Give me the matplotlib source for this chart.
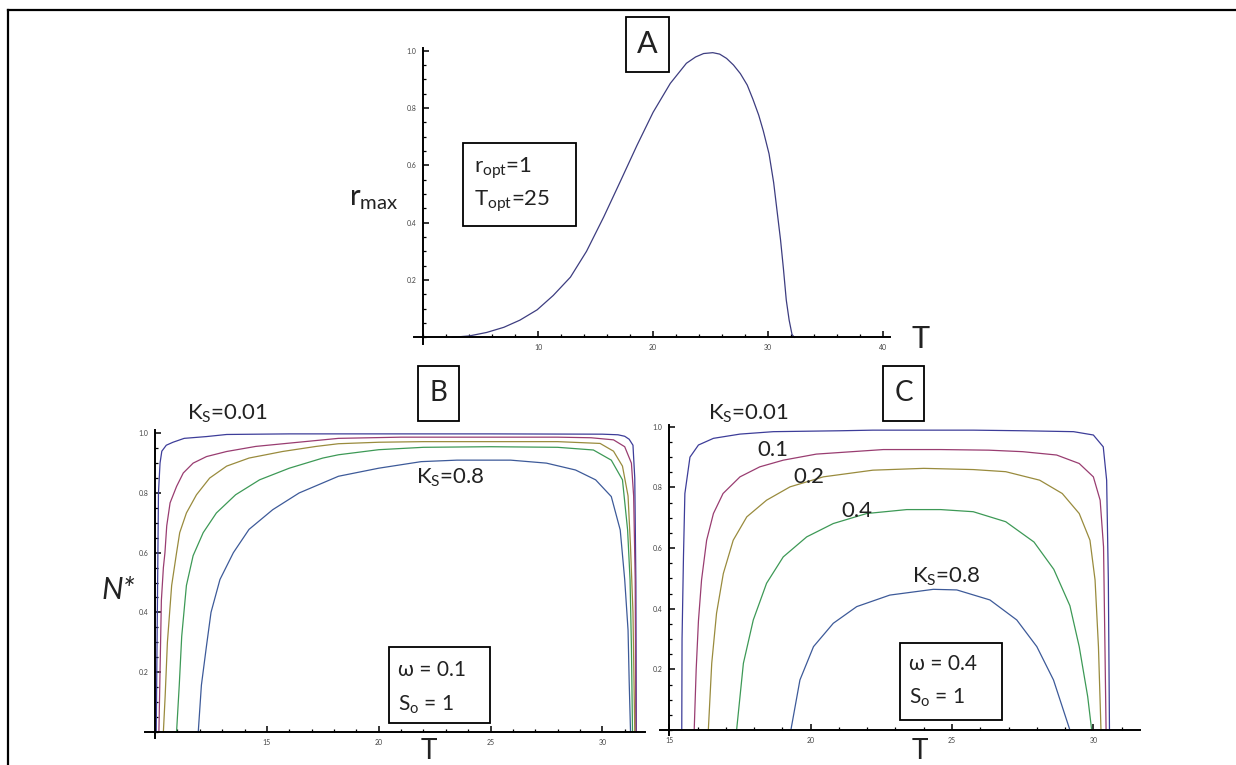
import matplotlib
matplotlib.use("Agg")
import matplotlib.pyplot as plt
from matplotlib.patches import Rectangle
from matplotlib.lines import Line2D
from matplotlib.ticker import MultipleLocator

plt.rcParams['font.family'] = ['Lato', 'DejaVu Sans']
plt.rcParams['mathtext.fontset'] = 'custom'
plt.rcParams['mathtext.rm'] = 'Lato'
plt.rcParams['mathtext.it'] = 'Lato:italic'
plt.rcParams['mathtext.bf'] = 'Lato:bold'

# ---------------- data ----------------
# Panel A: r_max vs T
a_T = [2.5, 4.0, 5.5, 7.0, 8.4, 9.9, 11.3, 12.8, 14.2, 15.7, 17.1, 18.6, 20.0,
       21.5, 22.9, 23.7, 24.4, 25.2, 25.8, 26.4, 27.0, 27.6, 28.2, 28.7, 29.2, 29.6,
       30.1, 30.5, 30.8, 31.1, 31.35, 31.6, 31.85, 32.1, 32.3]
a_r = [0.0, 0.005, 0.017, 0.035, 0.06, 0.096, 0.146, 0.21, 0.30, 0.42, 0.54, 0.67, 0.785,
       0.886, 0.956, 0.978, 0.99, 0.993, 0.988, 0.973, 0.95, 0.92, 0.88, 0.83, 0.775, 0.72,
       0.64, 0.54, 0.44, 0.34, 0.24, 0.13, 0.06, 0.01, 0.0]

# Panel B (omega = 0.1): N* vs T for Ks = 0.01, 0.1, 0.2, 0.4, 0.8
b_T_001 = [10.05, 10.1, 10.15, 10.22, 10.3, 10.5, 10.8, 11.3, 12.3, 13.2, 16, 20, 25, 30,
           30.7, 31.0, 31.2, 31.37, 31.45, 31.5, 31.52]
b_N_001 = [0, 0.4, 0.8, 0.9, 0.94, 0.96, 0.97, 0.983, 0.989, 0.996, 0.998, 0.998, 0.998, 0.997,
           0.995, 0.99, 0.98, 0.96, 0.85, 0.5, 0]
b_T_01 = [10.17, 10.22, 10.28, 10.37, 10.44, 10.52, 10.67, 10.96, 11.26, 11.7, 12.3, 13.2, 14.5,
          16.0, 18.2, 21, 25, 28, 29.5, 30.5, 31.0, 31.3, 31.4, 31.47, 31.5]
b_N_01 = [0, 0.2, 0.44, 0.55, 0.6, 0.69, 0.767, 0.822, 0.867, 0.9, 0.922, 0.939, 0.956,
          0.967, 0.983, 0.987, 0.987, 0.987, 0.985, 0.978, 0.955, 0.9, 0.79, 0.51, 0]
b_T_02 = [10.37, 10.45, 10.55, 10.74, 10.96, 11.1, 11.4, 11.85, 12.44, 13.2, 14.2, 15.7, 17.2,
          18.2, 20, 22, 25, 28, 29.9, 30.5, 30.9, 31.15, 31.26, 31.37, 31.45]
b_N_02 = [0, 0.12, 0.3, 0.49, 0.6, 0.667, 0.733, 0.794, 0.85, 0.89, 0.917, 0.939, 0.956,
          0.965, 0.97, 0.972, 0.972, 0.972, 0.966, 0.94, 0.89, 0.79, 0.62, 0.40, 0]
b_T_04 = [10.96, 11.08, 11.19, 11.4, 11.7, 12.15, 12.74, 13.6, 14.67, 16, 17.5, 18.2, 20, 22,
          25, 28, 29.6, 30.4, 30.9, 31.13, 31.24, 31.3, 31.35]
b_N_04 = [0, 0.156, 0.32, 0.49, 0.59, 0.667, 0.733, 0.794, 0.844, 0.883, 0.917, 0.928, 0.945,
          0.953, 0.955, 0.953, 0.944, 0.91, 0.844, 0.676, 0.508, 0.285, 0]
b_T_08 = [11.93, 12.07, 12.3, 12.5, 12.9, 13.5, 14.2, 15.26, 16.44, 18.2, 20, 21.9, 23.5, 25.9,
          27.5, 28.8, 29.7, 30.4, 30.8, 31.0, 31.15, 31.2, 31.26]
b_N_08 = [0, 0.156, 0.289, 0.4, 0.51, 0.6, 0.678, 0.744, 0.8, 0.856, 0.883, 0.905, 0.91, 0.91,
          0.9, 0.877, 0.844, 0.788, 0.676, 0.51, 0.34, 0.17, 0]

# Panel C (omega = 0.4)
c_T_001 = [15.44, 15.45, 15.5, 15.55, 15.73, 16.03, 16.56, 17.5, 18.68, 21.04, 22.2, 25.75,
           27.5, 29.3, 30.0, 30.35, 30.47, 30.53, 30.57]
c_N_001 = [0, 0.3, 0.57, 0.78, 0.9, 0.94, 0.962, 0.976, 0.984, 0.987, 0.989, 0.989, 0.987,
           0.984, 0.973, 0.934, 0.824, 0.495, 0]
c_T_01 = [15.88, 15.95, 16.03, 16.14, 16.32, 16.56, 16.9, 17.5, 18.2, 19.03, 20.2, 22.57, 24.6,
          26.3, 27.5, 28.7, 29.5, 30.0, 30.24, 30.36, 30.41, 30.45]
c_N_01 = [0, 0.2, 0.36, 0.495, 0.626, 0.714, 0.78, 0.835, 0.868, 0.89, 0.91, 0.925, 0.925,
          0.923, 0.918, 0.907, 0.879, 0.835, 0.758, 0.604, 0.275, 0]
c_T_02 = [16.38, 16.5, 16.67, 16.91, 17.26, 17.74, 18.44, 19.27, 20.45, 22.2, 24.0, 25.75,
          26.9, 28.1, 28.9, 29.5, 29.88, 30.06, 30.18, 30.27]
c_N_02 = [0, 0.22, 0.385, 0.516, 0.626, 0.703, 0.758, 0.802, 0.835, 0.857, 0.863, 0.859,
          0.852, 0.824, 0.78, 0.714, 0.626, 0.495, 0.275, 0]
c_T_04 = [17.38, 17.62, 17.97, 18.44, 19.03, 19.86, 20.8, 21.98, 23.4, 24.6, 25.75, 26.9,
          27.9, 28.6, 29.17, 29.5, 29.8, 29.94]
c_N_04 = [0, 0.22, 0.363, 0.484, 0.571, 0.637, 0.681, 0.714, 0.727, 0.727, 0.72, 0.687,
          0.62, 0.53, 0.41, 0.275, 0.11, 0]
c_T_08 = [19.3, 19.62, 20.1, 20.8, 21.63, 22.8, 24.34, 25.17, 26.34, 27.29, 28.0, 28.59, 29.17]
c_N_08 = [0, 0.165, 0.275, 0.352, 0.407, 0.445, 0.464, 0.462, 0.429, 0.363, 0.275, 0.165, 0]

ab_xticks = [10, 20, 30, 40]
b_xticks = [15, 20, 25, 30]
c_xticks = [15, 20, 25, 30]
y_ticks = [0.2, 0.4, 0.6, 0.8, 1.0]
y_ticklabels = ["0.2", "0.4", "0.6", "0.8", "1.0"]

colors = [(0.24, 0.24, 0.6), (0.6, 0.24, 0.4428), (0.6, 0.547, 0.24),
          (0.24, 0.6, 0.337), (0.24, 0.353, 0.6)]

# ---------------- figure ----------------
W, H = 1236, 765
fig = plt.figure(figsize=(W / 100, H / 100), dpi=100)


def fx(x):
    return x / W


def fy(y):
    return 1 - y / H


def add_axes_px(x0, x1, ytop, ybot):
    return fig.add_axes([fx(x0), fy(ybot), (x1 - x0) / W, (ybot - ytop) / H])


def style(ax, xorig, xmajor, xminor):
    for s in ['top', 'right']:
        ax.spines[s].set_visible(False)
    ax.spines['left'].set_position(('data', xorig))
    ax.spines['bottom'].set_position(('data', 0))
    for s in ['left', 'bottom']:
        ax.spines[s].set_linewidth(1.4)
    ax.set_yticks(y_ticks)
    ax.set_yticklabels(y_ticklabels)
    ax.set_xticks(xmajor)
    ax.set_xticklabels([str(v) for v in xmajor])
    ax.xaxis.set_minor_locator(MultipleLocator(xminor))
    ax.yaxis.set_minor_locator(MultipleLocator(0.05))
    ax.tick_params(which='major', direction='in', length=4, width=1.1,
                   labelsize=5, labelcolor='#444444', pad=5)
    ax.tick_params(which='minor', direction='in', length=2.5, width=0.9)
    ax.patch.set_alpha(0)


lw = 0.9

# Panel A
axA = add_axes_px(414.3, 889.6, 47.8, 344.5)
axA.set_xlim(-0.8, 40.6)
axA.set_ylim(-0.025, 1.01)
axA.plot(a_T, a_r, color=(0.24, 0.24, 0.5), lw=lw)
style(axA, 0, ab_xticks, 2)

# Panel B
axB = add_axes_px(144.6, 644.6, 430.0, 738.3)
axB.set_xlim(9.53, 31.89)
axB.set_ylim(-0.022, 1.011)
for (t, n), c in zip([(b_T_001, b_N_001), (b_T_01, b_N_01), (b_T_02, b_N_02),
                      (b_T_04, b_N_04), (b_T_08, b_N_08)], colors):
    axB.plot(t, n, color=c, lw=lw)
style(axB, 10, b_xticks, 1)

# Panel C
axC = add_axes_px(660, 1140, 425.0, 735.0)
axC.set_xlim(14.67, 31.65)
axC.set_ylim(-0.0165, 1.006)
for (t, n), c in zip([(c_T_001, c_N_001), (c_T_01, c_N_01), (c_T_02, c_N_02),
                      (c_T_04, c_N_04), (c_T_08, c_N_08)], colors):
    axC.plot(t, n, color=c, lw=lw)
style(axC, 15, c_xticks, 1)


# ---------------- texts and boxes ----------------
def box(x0, x1, y0, y1, lwid=1.3):
    fig.add_artist(Rectangle((fx(x0), fy(y1)), (x1 - x0) / W, (y1 - y0) / H,
                             transform=fig.transFigure, fill=False,
                             edgecolor='black', lw=lwid))


def txt(x, y, s, size, ha='center', va='center', **kw):
    fig.text(fx(x), fy(y), s, fontsize=size, ha=ha, va=va, color='#222222', **kw)


# outer frame (top and left edges)
fig.add_artist(Line2D([fx(8), fx(1236)], [fy(10), fy(10)], transform=fig.transFigure,
                      color='black', lw=1.6))
fig.add_artist(Line2D([fx(8), fx(8)], [fy(10), fy(765)], transform=fig.transFigure,
                      color='black', lw=1.6))

# Panel A
box(626, 669, 17, 72)
txt(647.5, 44, "A", 22)
box(463, 576, 143, 226)
txt(474, 168, r"r$_\mathrm{opt}$=1", 16, ha='left')
txt(474, 201, r"T$_\mathrm{opt}$=25", 16, ha='left')
txt(349, 205, r"$\mathrm{r}_{\mathrm{max}}$", 21, ha='left', va='baseline')
txt(921, 339, "T", 22)

# Panel B
box(418, 459, 366, 421)
txt(438.5, 393, "B", 20)
txt(187, 414, r"K$_\mathrm{S}$=0.01", 16, ha='left')
txt(416, 478, r"K$_\mathrm{S}$=0.8", 16, ha='left')
txt(118, 590, "N*", 22, style='italic')
box(389, 490, 647, 723)
txt(398, 670, "ω = 0.1", 15, ha='left')
txt(398, 705, r"S$_\mathrm{o}$ = 1", 15, ha='left')
txt(429, 764, "T", 20, va='bottom')

# Panel C
box(883, 924, 366, 421)
txt(903.5, 393, "C", 20)
txt(708, 414, r"K$_\mathrm{S}$=0.01", 16, ha='left')
txt(773, 450, "0.1", 16)
txt(809, 477, "0.2", 16)
txt(857, 511, "0.4", 16)
txt(912, 577, r"K$_\mathrm{S}$=0.8", 16, ha='left')
box(900, 1002, 643, 720)
txt(909, 664, "ω = 0.4", 15, ha='left')
txt(909, 698, r"S$_\mathrm{o}$ = 1", 15, ha='left')
txt(920, 764, "T", 20, va='bottom')

fig.savefig("out.png", dpi=100)
